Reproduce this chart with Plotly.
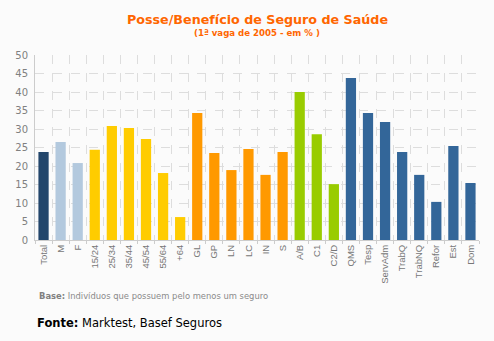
import plotly.graph_objects as go

categories = ["Total", "M", "F", "15/24", "25/34", "35/44", "45/54", "55/64", "+64",
              "GL", "GP", "LN", "LC", "IN", "S", "A/B", "C1", "C2/D",
              "QMS", "Tesp", "ServAdm", "TrabQ", "TrabNQ", "Refor", "Est", "Dom"]
values = [23.8, 26.5, 20.8, 24.4, 30.8, 30.3, 27.3, 18.1, 6.2,
          34.3, 23.5, 18.9, 24.6, 17.6, 23.8, 40.0, 28.6, 15.1,
          43.8, 34.3, 31.9, 23.8, 17.6, 10.3, 25.4, 15.4]
groups = ["total"] + ["sexo"] * 2 + ["idade"] * 6 + ["regiao"] * 6 + ["classe"] * 3 + ["ocup"] * 8
group_colors = {"total": "#23466b", "sexo": "#b3c9de", "idade": "#ffcc00",
                "regiao": "#ff9900", "classe": "#99cc00", "ocup": "#336699"}
colors = [group_colors[g] for g in groups]

fig = go.Figure(go.Bar(x=categories, y=values, marker=dict(color=colors, line=dict(width=0)),
                       hoverinfo="x+y"))

fig.update_layout(
    width=494, height=341,
    margin=dict(l=35, r=15, t=55, b=101),
    paper_bgcolor="#fbfbfb", plot_bgcolor="#fbfbfb",
    bargap=0.4,
    showlegend=False,
    font=dict(family="Liberation Sans", size=10, color="#777777"),
)
fig.update_xaxes(type="category", tickson="boundaries", tickangle=-90,
                 showgrid=True, gridcolor="#dddddd", griddash="dash", gridwidth=1,
                 showline=True, linecolor="#cccccc", linewidth=1,
                 ticks="outside", ticklen=3, tickcolor="#cccccc",
                 tickfont=dict(family="Liberation Sans", size=9.5, color="#777777"),
                 mirror=False)
fig.update_yaxes(range=[0, 50], dtick=5, tick0=0,
                 showgrid=True, gridcolor="#dddddd", griddash="dash", gridwidth=1,
                 showline=True, linecolor="#cccccc", linewidth=1,
                 zeroline=False, ticks="", ticklabelstandoff=4,
                 tickfont=dict(family="DejaVu Sans", size=10, color="#808080"))

annotations = [
    dict(text="<b>Posse/Benefício de Seguro de Saúde</b>", x=0.5, y=(240 - 20) / 185,
         xref="paper", yref="paper", showarrow=False, xanchor="center", yanchor="middle",
         font=dict(family="DejaVu Sans", size=12.7, color="#ff6600")),
    dict(text="<b>(1ª vaga de 2005 - em % )</b>", x=0.5, y=(240 - 33) / 185,
         xref="paper", yref="paper", showarrow=False, xanchor="center", yanchor="middle",
         font=dict(family="DejaVu Sans", size=8.6, color="#ff6600")),
    dict(text="<b><span style='color:#808080'>Base:</span></b> Indivíduos que possuem pelo menos um seguro",
         x=(37 - 35) / 444,
         y=(240 - 296) / 185, xref="paper", yref="paper", showarrow=False,
         xanchor="left", yanchor="middle",
         font=dict(family="DejaVu Sans", size=8.4, color="#8a8a8a")),
    dict(text="<b>Fonte:</b> Marktest, Basef Seguros", x=(35 - 35) / 444,
         y=(240 - 323) / 185, xref="paper", yref="paper", showarrow=False,
         xanchor="left", yanchor="middle",
         font=dict(family="DejaVu Sans", size=11.5, color="#000000")),
]
fig.update_layout(annotations=annotations)

fig.write_html("out.html")
